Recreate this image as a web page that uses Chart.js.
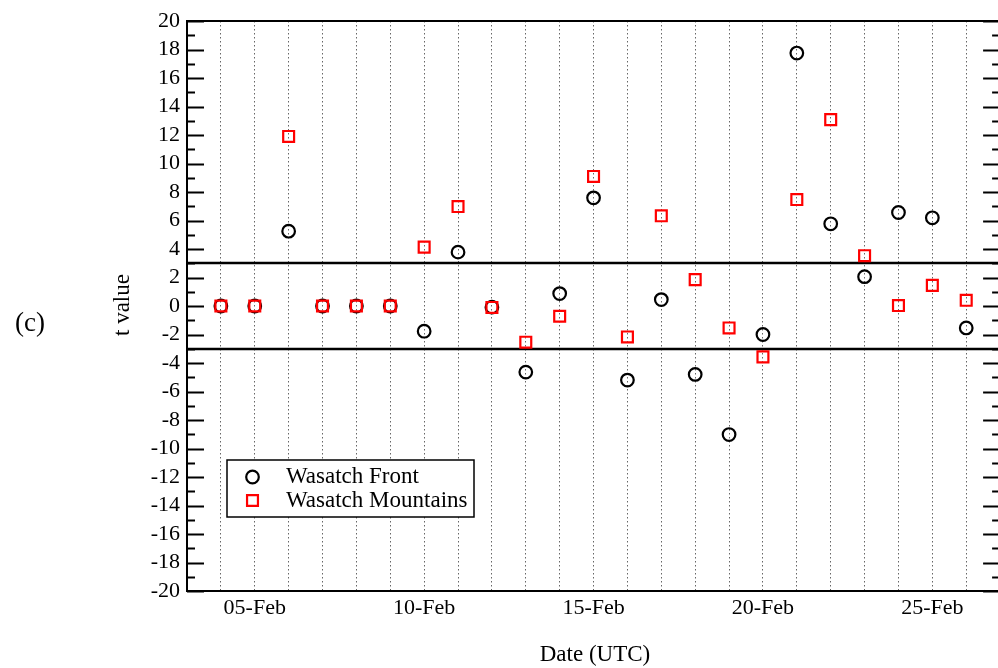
<!DOCTYPE html>
<html>
<head>
<meta charset="utf-8">
<script src="https://cdn.jsdelivr.net/npm/chart.js@4/dist/chart.umd.min.js"></script>
<style>
  html, body { margin: 0; padding: 0; background: #fff; overflow: hidden; }
  #wrap { position: relative; width: 1010px; height: 668px; }
</style>
</head>
<body>
<div id="wrap"><canvas id="tChart"></canvas></div>
<script>
/* t value per dag, Wasatch Front vs Wasatch Mountains (feb) */

const days = [4, 5, 6, 7, 8, 9, 10, 11, 12, 13, 14, 15, 16, 17, 18, 19, 20, 21, 22, 23, 24, 25, 26];
const front = [0, 0, 5.25, 0, 0, 0, -1.77, 3.78, -0.08, -4.64, 0.87, 7.59, -5.2, 0.45, -4.8, -9.02, -2.0, 17.75, 5.77, 2.06, 6.56, 6.19, -1.54];
const mountains = [0, 0, 11.9, 0, 0, 0, 4.13, 6.98, -0.1, -2.54, -0.72, 9.09, -2.17, 6.33, 1.85, -1.54, -3.57, 7.47, 13.08, 3.53, 0.03, 1.45, 0.4];

const labelDays = [5, 10, 15, 20, 25];
const labelText = ['05-Feb', '10-Feb', '15-Feb', '20-Feb', '25-Feb'];
const thresholds = [3, -3];

const SERIF = '"Liberation Serif", "Times New Roman", serif';

/* kader, drempellijnen, ticks naar binnen, titels en legenda */
const frame = {
  id: 'frame',
  beforeDatasetsDraw(chart) {
    const { ctx, chartArea: a, scales: { y } } = chart;
    ctx.save();
    ctx.strokeStyle = '#000';
    ctx.lineWidth = 2.5;
    for (const t of thresholds) {
      const py = Math.round(y.getPixelForValue(t));
      ctx.beginPath();
      ctx.moveTo(a.left, py);
      ctx.lineTo(a.right, py);
      ctx.stroke();
    }
    ctx.lineWidth = 2;
    ctx.strokeRect(a.left, a.top, a.right - a.left, a.bottom - a.top);
    ctx.lineWidth = 1.8;
    y.ticks.forEach(t => {
      const py = Math.round(y.getPixelForValue(t.value)) + 0.5;
      const len = t.value % 2 === 0 ? 17 : 8;
      ctx.beginPath();
      ctx.moveTo(a.left, py); ctx.lineTo(a.left + len, py);
      ctx.moveTo(a.right, py); ctx.lineTo(a.right - len, py);
      ctx.stroke();
    });
    ctx.restore();
  },
  afterDraw(chart) {
    const { ctx } = chart;
    ctx.save();
    ctx.fillStyle = '#000';
    ctx.textBaseline = 'middle';
    ctx.textAlign = 'center';

    ctx.font = '27px ' + SERIF;
    ctx.fillText('(c)', 30, 324);

    ctx.font = '23px ' + SERIF;
    ctx.fillText('Date (UTC)', 595, 655);
    ctx.save();
    ctx.translate(123, 305);
    ctx.rotate(-Math.PI / 2);
    ctx.fillText('t value', 0, 0);
    ctx.restore();

    // legenda
    ctx.fillStyle = '#fff';
    ctx.fillRect(227, 460, 247, 57);
    ctx.strokeStyle = '#000';
    ctx.lineWidth = 1.5;
    ctx.strokeRect(227, 460, 247, 57);
    const rows = [[0, 477], [1, 500.5]];
    for (const [i, py] of rows) {
      const ds = chart.data.datasets[i];
      ctx.fillStyle = 'rgba(0,0,0,0)';
      ctx.strokeStyle = ds.borderColor;
      ctx.lineWidth = ds.borderWidth;
      Chart.helpers.drawPoint(ctx, {
        pointStyle: ds.pointStyle, radius: ds.pointRadius, borderWidth: ds.borderWidth, rotation: 0
      }, 252.5, py);
      ctx.fillStyle = '#000';
      ctx.textAlign = 'left';
      ctx.fillText(ds.label, 286, py);
    }
    ctx.restore();
  }
};

new Chart(document.getElementById('tChart'), {
  type: 'scatter',
  data: {
    datasets: [
      {
        label: 'Wasatch Front',
        data: days.map((d, i) => ({ x: d, y: front[i] })),
        pointStyle: 'circle',
        pointRadius: 6.3,
        borderColor: '#000',
        backgroundColor: 'rgba(0,0,0,0)',
        borderWidth: 2.2,
        order: 2
      },
      {
        label: 'Wasatch Mountains',
        data: days.map((d, i) => ({ x: d, y: mountains[i] })),
        pointStyle: 'rect',
        pointRadius: 7.7,
        borderColor: '#f00',
        backgroundColor: 'rgba(0,0,0,0)',
        borderWidth: 2.2,
        order: 1
      }
    ]
  },
  options: {
    responsive: true,
    maintainAspectRatio: false,
    animation: false,
    events: [],
    layout: { padding: { left: 0, top: 21, right: 6.5, bottom: 0 } },
    plugins: { legend: { display: false }, tooltip: { enabled: false } },
    scales: {
      x: {
        type: 'linear',
        min: 3,
        max: 27,
        afterFit: s => { s.height = 77; },
        border: { display: false, dash: [1.5, 2.5] },
        grid: { color: '#666', lineWidth: 1, drawTicks: false },
        ticks: {
          stepSize: 1,
          autoSkip: false,
          maxRotation: 0,
          padding: 4,
          color: '#000',
          font: { family: SERIF, size: 22 },
          callback: v => {
            const i = labelDays.indexOf(v);
            return i >= 0 ? labelText[i] : '';
          }
        }
      },
      y: {
        min: -20,
        max: 20,
        afterFit: s => { s.width = 187; },
        border: { display: false },
        grid: { display: false, drawTicks: false },
        ticks: {
          stepSize: 1,
          autoSkip: false,
          padding: 7,
          color: '#000',
          font: { family: SERIF, size: 22 },
          callback: v => (v % 2 === 0 ? String(v) : '')
        }
      }
    }
  },
  plugins: [frame]
});
</script>
</body>
</html>
